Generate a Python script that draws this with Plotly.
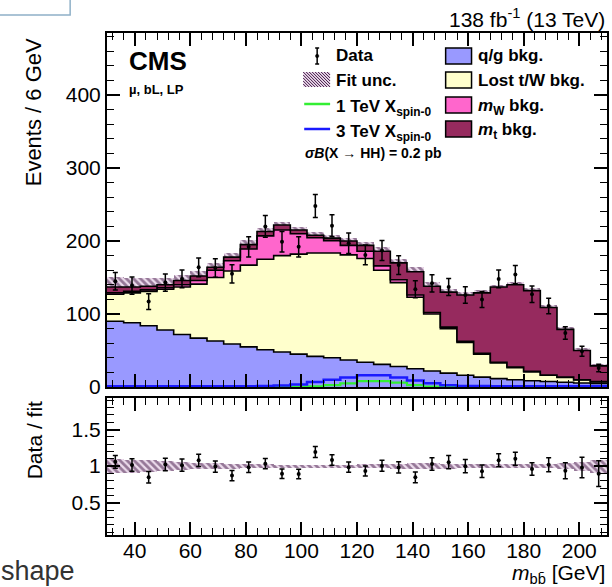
import numpy as np
import plotly.graph_objects as go

# ---------------- data ----------------
bin_edges = list(range(30, 211, 6))  # m_bb [GeV], 30 bins of 6 GeV

qg_bkg = [90, 88, 84, 78, 72, 67, 63, 59, 55, 51, 48, 45, 42, 40, 37, 34, 31, 28, 25, 22,
          19, 16, 13.5, 11.5, 10, 8.5, 7.5, 6.5, 5.5, 5]
lost_tw_bkg = [37, 41, 47, 56, 65, 74, 87, 100, 112, 124, 132, 137, 141.5, 143.5, 144, 142, 129, 115, 98, 78,
               61, 45, 31.5, 21.5, 16.5, 12, 8.5, 6.5, 4, 2]
mw_bkg = [2, 2, 2, 2, 3, 5, 10, 14, 22, 32, 35, 28, 21, 17, 13, 10, 6, 4, 3, 2,
          2, 1.5, 1, 1, 1, 1, 0.5, 0.5, 0.5, 0.5]
mt_bkg = [8, 6, 5, 4, 6, 6, 4, 5, 6, 6, 7, 5, 3.5, 3.5, 6, 8, 20, 23, 32, 36,
          48, 63.5, 83, 103, 112.5, 110.5, 92.5, 65.5, 40, 21.5]
data_counts = [145, 139, 117, 143, 148, 164, 163, 155, 192, 220, 199, 192, 248, 221, 197, 181, 187, 167, 134, 142,
               137, 126, 120, 148, 154, 127, 111, 74, 49, 26]
fit_unc_rel = [0.10, 0.09, 0.08, 0.065, 0.055, 0.045, 0.04, 0.035, 0.03, 0.025, 0.02, 0.02, 0.02, 0.02, 0.02,
               0.025, 0.03, 0.035, 0.04, 0.04, 0.035, 0.03, 0.03, 0.025, 0.025, 0.025, 0.03, 0.04, 0.06, 0.09]
sig_1tev = [0, 0, 0, 0, 0, 0, 0, 0, 0, 0, 0, 0.3, 1, 2.5, 5, 8, 8, 6, 2.5, 0.5,
            0, 0, 0, 0, 0, 0, 0, 0, 0, 0]
sig_3tev = [1, 1, 1, 1, 1, 1, 1, 1, 1, 1.2, 2, 3.5, 7, 10, 13, 16, 16, 13, 9, 5,
            2.5, 1.5, 1.2, 1, 1, 1, 1, 1, 1, 1]

# ---------------- styling ----------------
FONT = "Liberation Sans"
C_QG = "#9999ff"
C_LOST = "#ffffcc"
C_MW = "#ff66cc"
C_MT = "#962a5e"
C_HATCH = "#3d1442"
C_HATCH_BG = "rgba(200,150,200,0.35)"
C_SIG1 = "#33ee33"
C_SIG3 = "#1a1aff"

W, H = 612, 587
ML, MR, MT, MB = 107, 3, 33, 52
PW, PH = W - ML - MR, H - MT - MB


def px(x):
    return (x - ML) / PW


def py(y):
    return (H - MB - y) / PH


edges = np.array(bin_edges, dtype=float)
centers = (edges[:-1] + edges[1:]) / 2
widths = np.diff(edges)
qg = np.array(qg_bkg, float)
lost = np.array(lost_tw_bkg, float)
mw = np.array(mw_bkg, float)
mt = np.array(mt_bkg, float)
data = np.array(data_counts, float)
unc = np.array(fit_unc_rel, float)

cum1 = qg
cum2 = cum1 + lost
cum3 = cum2 + mw
total = cum3 + mt

fig = go.Figure()


def step_y(v):
    return np.append(v, v[-1])


for i, (cum, col) in enumerate([(cum1, C_QG), (cum2, C_LOST), (cum3, C_MW), (total, C_MT)]):
    fig.add_trace(go.Scatter(
        x=edges, y=step_y(cum), mode="lines",
        line=dict(color="black", width=1.6, shape="hv"),
        fill="tozeroy" if i == 0 else "tonexty", fillcolor=col,
        xaxis="x", yaxis="y", showlegend=False, hoverinfo="skip"))

hatch = dict(color=C_HATCH_BG, line=dict(width=0),
             pattern=dict(shape="\\", fgcolor=C_HATCH, bgcolor=C_HATCH_BG, size=5, solidity=0.55))

# fit uncertainty band (main)
fig.add_trace(go.Bar(
    x=centers, y=2 * unc * total, base=total * (1 - unc), width=widths, marker=hatch,
    xaxis="x", yaxis="y", showlegend=False, hoverinfo="skip"))

# signals
for sig, col, lw in [(sig_1tev, C_SIG1, 2.2), (sig_3tev, C_SIG3, 2.5)]:
    fig.add_trace(go.Scatter(
        x=edges, y=step_y(np.array(sig, float)), mode="lines",
        line=dict(color=col, width=lw, shape="hv"),
        xaxis="x", yaxis="y", showlegend=False, hoverinfo="skip"))

# data
fig.add_trace(go.Scatter(
    x=centers, y=data, mode="markers",
    marker=dict(color="black", size=4),
    error_y=dict(type="data", array=np.sqrt(data), color="black", thickness=1.5, width=2.5),
    xaxis="x", yaxis="y", showlegend=False, hoverinfo="skip"))

# ratio panel
fig.add_trace(go.Bar(
    x=centers, y=2 * unc, base=1 - unc, width=widths, marker=hatch,
    xaxis="x2", yaxis="y2", showlegend=False, hoverinfo="skip"))
fig.add_trace(go.Scatter(
    x=centers, y=data / total, mode="markers",
    marker=dict(color="black", size=4),
    error_y=dict(type="data", array=np.sqrt(data) / total, color="black", thickness=1.5, width=2.5),
    xaxis="x2", yaxis="y2", showlegend=False, hoverinfo="skip"))

axis_common = dict(showline=True, linewidth=2, linecolor="black", mirror="ticks",
                   ticks="inside", ticklen=13, tickwidth=1.5, tickcolor="black",
                   showgrid=False, zeroline=False,
                   tickfont=dict(family=FONT, size=21, color="black"))
minor_x = dict(dtick=4, ticklen=7, ticks="inside", tickwidth=1, tickcolor="black")

fig.update_layout(
    width=W, height=H,
    margin=dict(l=ML, r=MR, t=MT, b=MB),
    paper_bgcolor="white", plot_bgcolor="white",
    barmode="overlay", bargap=0,
    xaxis=dict(domain=[0, 1], range=[30, 210], anchor="y", showticklabels=False,
               tick0=0, dtick=20, minor=minor_x, **axis_common),
    yaxis=dict(domain=[py(387), 1], range=[0, 485], anchor="x",
               tick0=0, dtick=100, minor=dict(dtick=20, ticklen=7, ticks="inside", tickwidth=1, tickcolor="black"),
               **axis_common),
    xaxis2=dict(domain=[0, 1], range=[30, 210], anchor="y2", ticklabelstandoff=-4,
                tick0=0, dtick=20, minor=minor_x, **axis_common),
    yaxis2=dict(domain=[0, py(398)], range=[0.06, 1.93], anchor="x2",
                tick0=0, dtick=0.5, minor=dict(dtick=0.1, ticklen=7, ticks="inside", tickwidth=1, tickcolor="black"),
                **axis_common),
)

annotations = []


def ann(text, x, y, size, xanchor="left", yanchor="middle", color="black", angle=0, family=FONT):
    annotations.append(dict(text=text, x=px(x), y=py(y), xref="paper", yref="paper",
                            xanchor=xanchor, yanchor=yanchor, showarrow=False, textangle=angle,
                            font=dict(family=family, size=size, color=color)))


ann("<b>CMS</b>", 127, 61, 26)
ann("<b>µ, bL, LP</b>", 127, 89, 13)
ann("138 fb<sup>-1</sup> (13 TeV)", 609, 18, 21, xanchor="right")
ann("Events / 6 GeV", 34, 112, 22, xanchor="center", angle=-90)
ann("Data / fit", 34, 440, 21, xanchor="center", angle=-90)
ann("<i>m</i><sub>bb̄</sub> [GeV]", 609, 574, 21, xanchor="right")
ann("shape", -1, 571, 27, color="#333333")

# legend texts
ann("<b>Data</b>", 335, 56, 17)
ann("<b>Fit unc.</b>", 335, 80, 17)
ann("<b>1 TeV X<sub>spin-0</sub></b>", 335, 108, 17)
ann("<b>3 TeV X<sub>spin-0</sub></b>", 335, 133, 17)
ann("<b><i>σB</i>(X → HH) = 0.2 pb</b>", 304, 153, 14)
ann("<b>q/g bkg.</b>", 477, 56, 17)
ann("<b>Lost t/W bkg.</b>", 477, 80, 17)
ann("<b><i>m</i><sub>W</sub> bkg.</b>", 477, 107, 17)
ann("<b><i>m</i><sub>t</sub> bkg.</b>", 477, 131, 17)

shapes = []


def rect(x0, y0, x1, y1, fill, line="black", lw=1.5):
    shapes.append(dict(type="rect", xref="paper", yref="paper", x0=px(x0), x1=px(x1), y0=py(y0), y1=py(y1),
                       fillcolor=fill, line=dict(color=line, width=lw)))


def seg(x0, y0, x1, y1, color, lw):
    shapes.append(dict(type="line", xref="paper", yref="paper", x0=px(x0), x1=px(x1), y0=py(y0), y1=py(y1),
                       line=dict(color=color, width=lw)))


rect(447, 48, 473, 64, C_QG)
rect(447, 72, 473, 88, C_LOST)
rect(447, 97, 473, 113, C_MW)
rect(447, 121, 473, 137, C_MT)

# data legend symbol
seg(318, 48, 318, 64, "black", 1.5)
seg(316, 48, 320, 48, "black", 1.5)
seg(316, 64, 320, 64, "black", 1.5)
shapes.append(dict(type="circle", xref="paper", yref="paper", x0=px(316.3), x1=px(319.7), y0=py(54.3), y1=py(57.7),
                   fillcolor="black", line=dict(color="black", width=0.5)))

# fit unc legend hatch
hx0, hy0, hw, hh = 304, 72, 27, 15
shapes.append(dict(type="rect", xref="paper", yref="paper", x0=px(hx0), x1=px(hx0 + hw), y0=py(hy0), y1=py(hy0 + hh),
                   fillcolor=C_HATCH_BG, line=dict(width=0)))
for c in np.arange(-hh, hw, 3.0):
    t0 = max(0.0, -c / hh)
    t1 = min(1.0, (hw - c) / hh)
    if t1 > t0:
        seg(hx0 + c + hh * t0, hy0 + hh * t0, hx0 + c + hh * t1, hy0 + hh * t1, C_HATCH, 1)

# signal legend lines
seg(305, 104, 331, 104, C_SIG1, 2.5)
seg(305, 129, 331, 129, C_SIG3, 2.5)

# page box at top-left
shapes.append(dict(type="rect", xref="paper", yref="paper", x0=px(-5), x1=px(70), y0=py(-5), y1=py(15),
                   fillcolor="rgba(0,0,0,0)", line=dict(color="#8fb0c8", width=1.5)))

fig.update_layout(annotations=annotations, shapes=shapes)
fig.write_html("out.html", config={"displayModeBar": False},
               post_script="document.body.style.margin='0';document.body.style.overflow='hidden';")
